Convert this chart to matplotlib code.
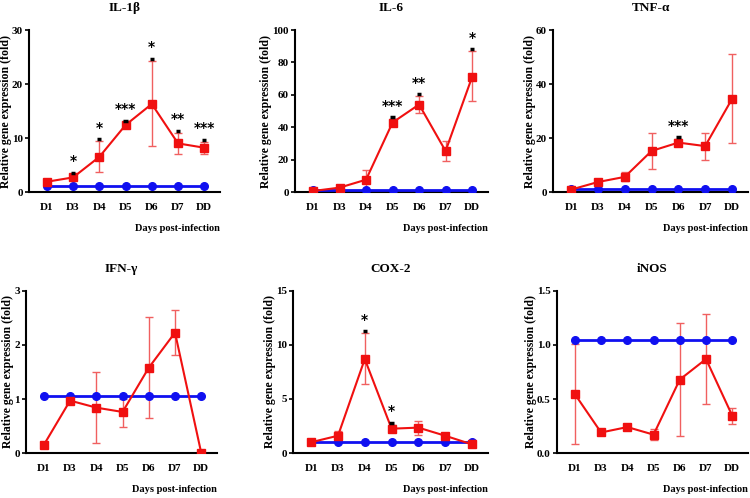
import numpy as np
import matplotlib
matplotlib.use("Agg")
import matplotlib.pyplot as plt

plt.rcParams['font.family'] = ['Liberation Serif', 'DejaVu Serif']
plt.rcParams['font.weight'] = 'bold'

days = ['D1', 'D3', 'D4', 'D5', 'D6', 'D7', 'DD']

# 各遺伝子: 感染群 (赤) 平均, 誤差下限, 誤差上限, 対照群 (青)
il1b = [1.9, 2.7, 6.5, 12.4, 16.3, 9.0, 8.2]
il1b_lo = [1.6, 2.2, 3.7, 12.0, 8.5, 7.1, 7.0]
il1b_hi = [2.2, 3.2, 9.4, 12.8, 24.3, 11.0, 9.3]
il1b_ctrl = [1.1] * 7
il1b_sig = ['', '*', '*', '***', '*', '**', '***']

il6 = [0.6, 2.7, 7.6, 42.9, 54.0, 25.3, 71.0]
il6_lo = [0.2, 1.5, 1.5, 41.0, 49.0, 19.1, 56.0]
il6_hi = [1.0, 3.9, 13.8, 45.0, 59.0, 31.2, 87.0]
il6_ctrl = [1.0] * 7
il6_sig = ['', '', '', '***', '**', '', '*']

tnfa = [0.9, 3.7, 5.6, 15.2, 18.3, 17.0, 34.4]
tnfa_lo = [0.4, 2.9, 4.0, 8.5, 17.5, 12.0, 18.0]
tnfa_hi = [1.5, 4.5, 7.5, 22.0, 19.5, 22.0, 51.0]
tnfa_ctrl = [1.0] * 7
tnfa_sig = ['', '', '', '', '***', '', '']

ifng = [0.15, 0.97, 0.84, 0.76, 1.58, 2.23, 0.0]
ifng_lo = [0.13, 0.95, 0.19, 0.49, 0.65, 1.82, 0.0]
ifng_hi = [0.17, 0.99, 1.50, 1.00, 2.52, 2.65, 0.0]
ifng_ctrl = [1.05] * 7
ifng_sig = [''] * 7

cox2 = [1.0, 1.6, 8.7, 2.25, 2.35, 1.6, 0.8]
cox2_lo = [0.7, 1.2, 6.4, 2.0, 1.7, 1.4, 0.6]
cox2_hi = [1.3, 2.0, 11.1, 2.6, 3.0, 1.8, 1.0]
cox2_ctrl = [1.05] * 7
cox2_sig = ['', '', '*', '*', '', '', '']

inos = [0.545, 0.19, 0.24, 0.17, 0.68, 0.87, 0.345]
inos_lo = [0.08, 0.17, 0.23, 0.12, 0.16, 0.45, 0.27]
inos_hi = [1.01, 0.21, 0.26, 0.22, 1.20, 1.29, 0.42]
inos_ctrl = [1.05] * 7
inos_sig = [''] * 7

panels = [
    ('IL-1β', il1b, il1b_lo, il1b_hi, il1b_ctrl, il1b_sig, [0, 10, 20, 30], '{:.0f}'),
    ('IL-6', il6, il6_lo, il6_hi, il6_ctrl, il6_sig, [0, 20, 40, 60, 80, 100], '{:.0f}'),
    ('TNF-α', tnfa, tnfa_lo, tnfa_hi, tnfa_ctrl, tnfa_sig, [0, 20, 40, 60], '{:.0f}'),
    ('IFN-γ', ifng, ifng_lo, ifng_hi, ifng_ctrl, ifng_sig, [0, 1, 2, 3], '{:.0f}'),
    ('COX-2', cox2, cox2_lo, cox2_hi, cox2_ctrl, cox2_sig, [0, 5, 10, 15], '{:.0f}'),
    ('iNOS', inos, inos_lo, inos_hi, inos_ctrl, inos_sig, [0, 0.5, 1.0, 1.5], '{:.1f}'),
]

W, H = 750, 498
# 軸の位置 (ピクセル: 左, 右, 上, 下)
boxes = [
    (29, 220, 30, 192), (295, 488, 30, 192), (553, 748, 30, 192),
    (26, 217, 291, 453), (293, 488, 291, 453), (557, 748, 291, 453),
]

fig = plt.figure(figsize=(W / 100, H / 100), dpi=100)

for (title, y, lo, hi, ctrl, sig, yt, fmt), (l, r, t, b) in zip(panels, boxes):
    ax = fig.add_axes([l / W, (H - b) / H, (r - l) / W, (b - t) / H])
    x = np.arange(len(days))
    y = np.array(y)
    err = [y - np.array(lo), np.array(hi) - y]
    ax.plot(x, ctrl, color='#1010f0', marker='o', markersize=5.5, linewidth=2.0, zorder=3)
    ax.errorbar(x, y, yerr=err, fmt='none', ecolor='#f06060', elinewidth=1.0,
                capsize=3, capthick=1.0, zorder=2)
    ax.plot(x, y, color='#f01010', marker='s', markersize=6, linewidth=1.5, zorder=4)

    ymax = yt[-1]
    for xi, s, h in zip(x, sig, hi):
        if s:
            ax.plot([xi - 0.08, xi + 0.08], [h + ymax * 0.012] * 2, color='black',
                    linewidth=2.5, solid_capstyle='butt', zorder=5)
            ax.text(xi, h + ymax * 0.04, s, ha='center', va='bottom',
                    fontsize=10, fontweight='bold', family='DejaVu Sans')

    ax.set_xlim(-0.68, 6.6)
    ax.set_ylim(0, ymax)
    ax.set_yticks(yt)
    ax.set_yticklabels([fmt.format(v) for v in yt], fontsize=8, fontweight='bold')
    ax.set_xticks(x)
    ax.set_xticklabels(days, fontsize=8, fontweight='bold')
    ax.tick_params(axis='x', length=0, pad=8)
    ax.tick_params(axis='y', length=3, width=1.2, pad=1.5)
    for side in ['top', 'right']:
        ax.spines[side].set_visible(False)
    for side in ['left', 'bottom']:
        ax.spines[side].set_linewidth(1.5)
    ax.set_title(title, fontsize=9.5, fontweight='bold', pad=14)
    ax.set_ylabel('Relative gene expression (fold)', fontsize=8.5, fontweight='bold',
                  labelpad=0)
    ax.text(1.0, -0.2, 'Days post-infection', transform=ax.transAxes, ha='right',
            va='top', fontsize=7.5, fontweight='bold')

fig.savefig('out.png', dpi=100)
